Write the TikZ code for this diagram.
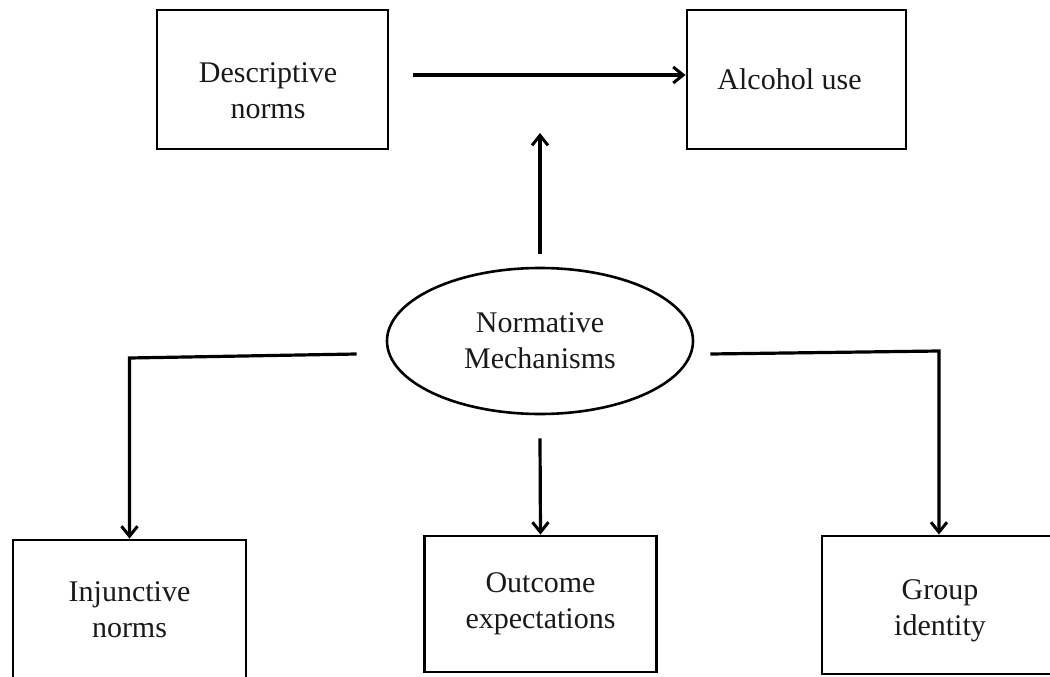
\documentclass[tikz,border=0pt]{standalone}
\usepackage{fontspec}
\setmainfont{Liberation Serif}
\usetikzlibrary{arrows.meta,shapes.geometric}
\begin{document}
\begin{tikzpicture}[x=1pt,y=-1pt,
  lbl/.style={align=center,font=\fontsize{30}{36}\selectfont,text=black!90},
  box/.style={lbl,draw,line width=2.8pt,rectangle,inner sep=0pt},
  oval/.style={lbl,draw,line width=2.6pt,ellipse,inner sep=0pt},
  link/.style={line width=3.2pt,line join=miter},
  arr/.style={link,-{Straight Barb[length=10pt,width=16pt,line width=3pt]}}]
\useasboundingbox (0,0) rectangle (1050,677);
\node[box,minimum width=231pt,minimum height=139pt] (desc) at (272.5,79.5) {};
\node[lbl] (desct) at (268,91) {Descriptive\\norms};
\node[box,minimum width=219pt,minimum height=139pt] (alc) at (796.5,79.5) {Alcohol use\hspace*{14pt}};
\node[oval,minimum width=306pt,minimum height=146pt] (norm) at (540,341) {Normative\\Mechanisms};
\node[box,minimum width=233pt,minimum height=140pt] (inj) at (129.5,610) {Injunctive\\norms};
\node[box,minimum width=232pt,minimum height=136pt] (out) at (540.5,604) {Outcome\\expectations};
\node[box,minimum width=234pt,minimum height=138pt] (grp) at (939,605) {};
\node[lbl] (grpt) at (940,611) {Group\\identity};
\coordinate (mod) at (540,133);
\coordinate (lb) at (129.5,358);
\coordinate (rb) at (939,351);
\draw[arr,line width=4.2pt] ([shift={(24,-4.5)}]desc.east) -- ([shift={(0,-4.5)}]alc.west);
\draw[arr] ([shift={(0,-13)}]norm.north) -- (mod);
\draw[arr] ([shift={(-29,13)}]norm.west) -- (lb) -- (inj.north);
\draw[arr] ([shift={(16,13)}]norm.east) -- (rb) -- (grp.north);
\draw[arr] ([shift={(0,23)}]norm.south) -- (out.north);
\end{tikzpicture}
\end{document}
